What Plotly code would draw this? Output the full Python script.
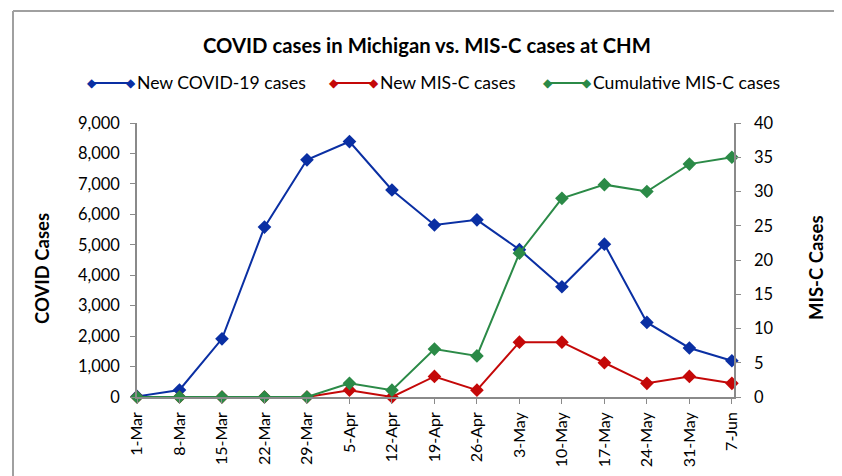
import plotly.graph_objects as go

dates = ["1-Mar", "8-Mar", "15-Mar", "22-Mar", "29-Mar", "5-Apr", "12-Apr", "19-Apr",
         "26-Apr", "3-May", "10-May", "17-May", "24-May", "31-May", "7-Jun"]
new_covid = [20, 230, 1910, 5580, 7790, 8390, 6800, 5650, 5820, 4840, 3620, 5020, 2450, 1610, 1190]
new_misc = [0, 0, 0, 0, 0, 1, 0, 3, 1, 8, 8, 5, 2, 3, 2]
cum_misc = [0, 0, 0, 0, 0, 2, 1, 7, 6, 21, 29, 31, 30, 34, 35]

BLUE = "#0A2FA3"
RED = "#C40808"
GREEN = "#2B8A47"
FONT = "Lato"

OFF = 8  # page body margin
W, H = 842 - OFF, 476 - OFF
# plot area in reference (screen) pixels
L, R, T, B = 137, 734, 123, 397


def px(xp):
    return (xp - L) / (R - L)


def py(yp):
    return (B - yp) / (B - T)


fig = go.Figure()
fig.add_trace(go.Scatter(x=dates, y=new_covid, name="New COVID-19 cases", mode="lines+markers",
                         line=dict(color=BLUE, width=2), marker=dict(symbol="diamond", size=10.5, color=BLUE),
                         cliponaxis=False, yaxis="y"))
fig.add_trace(go.Scatter(x=dates, y=new_misc, name="New MIS-C cases", mode="lines+markers",
                         line=dict(color=RED, width=2), marker=dict(symbol="diamond", size=10.5, color=RED),
                         cliponaxis=False, yaxis="y2"))
fig.add_trace(go.Scatter(x=dates, y=cum_misc, name="Cumulative MIS-C cases", mode="lines+markers",
                         line=dict(color=GREEN, width=2), marker=dict(symbol="diamond", size=10.5, color=GREEN),
                         cliponaxis=False, yaxis="y2"))

shapes = []
annotations = []

# chart border (only left and top edges are visible in the crop)
BORDER = dict(color="#A0A0A0", width=2)
shapes.append(dict(type="line", xref="paper", yref="paper", x0=px(13), x1=px(13), y0=py(11), y1=py(480),
                   line=BORDER, layer="below"))
shapes.append(dict(type="line", xref="paper", yref="paper", x0=px(13), x1=px(845), y0=py(11), y1=py(11),
                   line=BORDER, layer="below"))

# title
annotations.append(dict(x=px(427), y=py(45), xref="paper", yref="paper",
                        text="<b>COVID cases in Michigan vs. MIS-C cases at CHM</b>", showarrow=False,
                        font=dict(family=FONT, size=20.3, color="#000"), xanchor="center", yanchor="middle"))

# custom legend
legend_items = [("New COVID-19 cases", BLUE, 92, 131), ("New MIS-C cases", RED, 334, 374),
                ("Cumulative MIS-C cases", GREEN, 548, 587)]
ly = 83
for name, col, xa, xb in legend_items:
    shapes.append(dict(type="line", xref="paper", yref="paper", x0=px(xa), x1=px(xb), y0=py(ly), y1=py(ly),
                       line=dict(color=col, width=2)))
    for xx in (xa, xb):
        annotations.append(dict(x=px(xx), y=py(ly), xref="paper", yref="paper", text="◆", showarrow=False,
                                font=dict(family="DejaVu Sans", size=12, color=col), xanchor="center", yanchor="middle"))
    annotations.append(dict(x=px(xb + 4), y=py(ly), xref="paper", yref="paper", text=name, showarrow=False,
                            font=dict(family=FONT, size=17.6, color="#000"), xanchor="left", yanchor="middle"))

# axis titles
annotations.append(dict(x=px(42), y=py(268), xref="paper", yref="paper", text="<b>COVID Cases</b>",
                        textangle=-90, showarrow=False, font=dict(family=FONT, size=18.5, color="#000"),
                        xanchor="center", yanchor="middle"))
annotations.append(dict(x=px(816), y=py(268), xref="paper", yref="paper", text="<b>MIS-C Cases</b>",
                        textangle=-90, showarrow=False, font=dict(family=FONT, size=18.5, color="#000"),
                        xanchor="center", yanchor="middle"))

AX = "#8A8A8A"
fig.update_layout(
    width=W, height=H,
    margin=dict(l=L - OFF, r=842 - R, t=T - OFF, b=476 - B, pad=0),
    paper_bgcolor="white", plot_bgcolor="white",
    showlegend=False,
    xaxis=dict(type="category", categoryorder="array", categoryarray=dates, range=[0, 14.05],
               showline=True, linecolor=AX, linewidth=1.5, ticks="outside", ticklen=5, tickcolor=AX,
               tickangle=-90, showgrid=False, zeroline=False, ticklabelstandoff=2, automargin=False,
               tickfont=dict(family=FONT, size=16, color="#000")),
    yaxis=dict(range=[0, 9000], dtick=1000, tickformat=",", showline=True, linecolor=AX, linewidth=1.5,
               ticks="outside", ticklen=5, tickcolor=AX, showgrid=False, zeroline=False, ticklabelstandoff=7,
               automargin=False, tickfont=dict(family=FONT, size=16.5, color="#000")),
    yaxis2=dict(range=[0, 40], dtick=5, overlaying="y", side="right", showline=True, linecolor=AX,
                linewidth=1.5, ticks="outside", ticklen=5, tickcolor=AX, showgrid=False, zeroline=False,
                ticklabelstandoff=10, automargin=False, tickfont=dict(family=FONT, size=16.5, color="#000")),
    shapes=shapes,
    annotations=annotations,
)

fig.write_html("out.html")
